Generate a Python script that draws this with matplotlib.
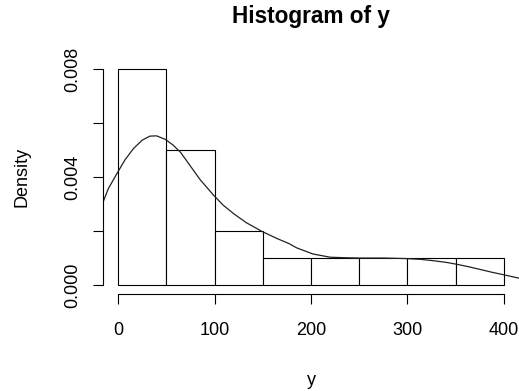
"""
Histogram of y with a density curve on top, drawn in the style of R's base graphics
"""

import numpy as np
import matplotlib.pyplot as plt
from matplotlib import rc

# base font, close to Helvetica
rc('font', family='Liberation Sans', size=13)

# histogram bins (width 50) and density of each bin
bin_edges = [0, 50, 100, 150, 200, 250, 300, 350, 400]
bin_density = [0.008, 0.005, 0.002, 0.001, 0.001, 0.001, 0.001, 0.001]

# density curve
curve_x = [-16, -10, -1, 7, 16, 25, 33, 40, 49, 57, 65, 74, 85, 99, 109,
           120, 133, 149, 165, 177, 185, 202, 220, 237, 251, 275, 299,
           314, 327, 340, 351, 363, 375, 388, 401, 416]
curve_y = [0.00303, 0.00358, 0.00414, 0.00463, 0.00506, 0.00537, 0.00552,
           0.00553, 0.0054, 0.00519, 0.00491, 0.00446, 0.00391, 0.00333,
           0.00296, 0.00264, 0.00231, 0.00199, 0.00172, 0.00154, 0.00138,
           0.00115, 0.00103, 0.00101, 0.001, 0.001, 0.00098, 0.00095,
           0.0009, 0.00084, 0.00077, 0.00068, 0.00058, 0.00047, 0.00037,
           0.00025]

x_ticks = [0, 100, 200, 300, 400]
y_ticks = [0, 0.002, 0.004, 0.006, 0.008]
y_ticklabels = ['0.000', '', '0.004', '', '0.008']

fig = plt.figure(figsize=(5.19, 3.91), dpi=100)
ax = fig.add_axes([0.1977, 0.249, 0.803, 0.596])

# the bars, white with a thin black outline
widths = np.diff(bin_edges)
ax.bar(bin_edges[:-1], bin_density, width=widths, align='edge',
       facecolor='white', edgecolor='black', linewidth=0.8)

ax.plot(curve_x, curve_y, color='#222222', lw=0.9)

# R pads the limits by 4%
ax.set_xlim(-16, 416)
ax.set_ylim(-0.00032, 0.00832)

# R style axes: no box, lines only as long as the ticks go
for s in ['top', 'right']:
    ax.spines[s].set_visible(False)
ax.spines['left'].set_bounds(0, 0.008)
ax.spines['bottom'].set_bounds(0, 400)
for s in ['left', 'bottom']:
    ax.spines[s].set_linewidth(0.8)

ax.set_xticks(x_ticks)
ax.set_xticklabels([str(v) for v in x_ticks])
ax.set_yticks(y_ticks)
ax.set_yticklabels(y_ticklabels, rotation=90, va='center')
ax.tick_params(direction='out', length=7.5, width=0.8, colors='black')
ax.tick_params(axis='x', pad=13)
ax.tick_params(axis='y', pad=8)

ax.set_title("Histogram of y", fontsize=16.3, fontweight='bold', pad=27)
ax.set_xlabel("y", labelpad=24)
ax.set_ylabel("Density", labelpad=24)

plt.savefig("out.png", dpi=100)
